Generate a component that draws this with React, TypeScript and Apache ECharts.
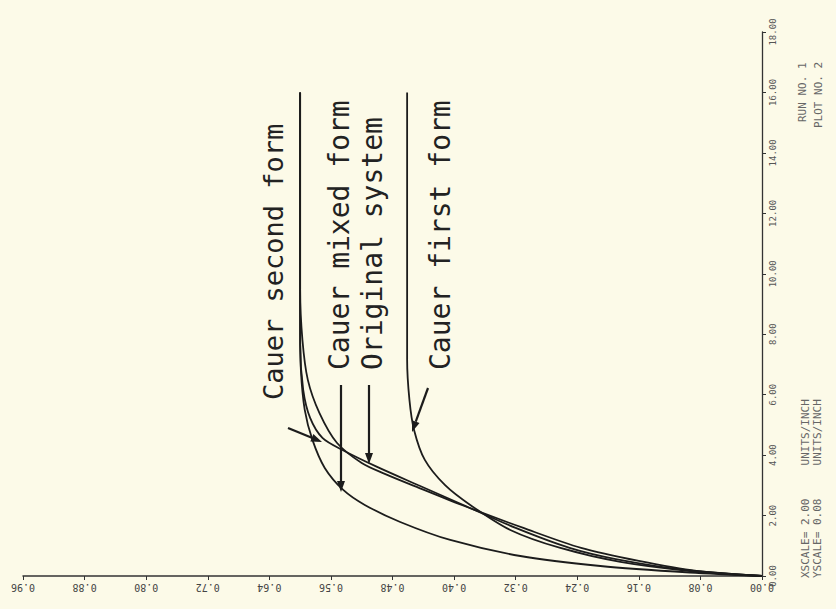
import React, { useEffect, useRef } from "react";
import * as echarts from "echarts";

// time (x-scale, 2.00 units/inch) and response (y-scale, 0.08 units/inch)
const mixedT = [0, 0.116, 0.331, 0.662, 1.192, 1.788, 2.351, 2.848, 3.576, 4.503, 5.497, 6.821, 8.477, 16.0];
const mixedR = [0, 0.094, 0.21, 0.314, 0.405, 0.47, 0.516, 0.544, 0.568, 0.584, 0.594, 0.599, 0.6, 0.6];

const secondT = [0, 0.2, 0.56, 0.93, 1.59, 2.35, 3.01, 3.61, 4.17, 4.57, 5.23, 6.16, 7.65, 16.0];
const secondR = [0, 0.1, 0.19, 0.25, 0.32, 0.388, 0.447, 0.5, 0.545, 0.571, 0.587, 0.596, 0.6, 0.6];

const originalT = [0, 0.166, 0.497, 0.93, 1.59, 2.35, 2.91, 3.38, 3.74, 4.4, 5.4, 6.49, 7.81, 9.47, 16.0];
const originalR = [0, 0.085, 0.16, 0.235, 0.31, 0.39, 0.445, 0.49, 0.52, 0.552, 0.575, 0.59, 0.597, 0.6, 0.6];

const firstT = [0, 0.166, 0.464, 0.927, 1.523, 2.351, 3.013, 3.841, 4.834, 5.828, 7.152, 16.0];
const firstR = [0, 0.094, 0.184, 0.262, 0.327, 0.379, 0.412, 0.438, 0.452, 0.458, 0.461, 0.461];

const labels = ["Cauer second form", "Cauer mixed form", "Original system", "Cauer first form"];

const INK = "#1c1c1c";
const MONO = "'DejaVu Sans Mono', 'Liberation Mono', monospace";

function pairs(r: number[], t: number[]) {
  return r.map((v, i) => [v, t[i]]);
}

function arrow(x1: number, y1: number, x2: number, y2: number) {
  const a = Math.atan2(y2 - y1, x2 - x1);
  const L = 11, W = 4;
  const bx = x2 - L * Math.cos(a), by = y2 - L * Math.sin(a);
  const px = -Math.sin(a) * W, py = Math.cos(a) * W;
  return [
    { type: "line", shape: { x1, y1, x2: bx, y2: by }, style: { stroke: INK, lineWidth: 2.2 } },
    {
      type: "polygon",
      shape: { points: [[x2, y2], [bx + px, by + py], [bx - px, by - py]] },
      style: { fill: INK },
    },
  ];
}

function vtext(text: string, x: number, y: number, size: number, color: string) {
  return {
    type: "text",
    x,
    y,
    rotation: Math.PI / 2,
    style: {
      text,
      fontSize: size,
      fontFamily: MONO,
      fill: color,
      align: "left",
      verticalAlign: "middle",
      textAlign: "left",
      textVerticalAlign: "middle",
    },
  };
}

export default function App() {
  const ref = useRef<HTMLDivElement>(null);
  useEffect(() => {
    if (!ref.current) return;
    const chart = echarts.init(ref.current, null, { renderer: "svg" });
    const lineSeries = (name: string, data: number[][]) => ({
      type: "line",
      name,
      data,
      showSymbol: false,
      smooth: 0.3,
      lineStyle: { color: INK, width: 1.8 },
    });
    chart.setOption({
      animation: false,
      backgroundColor: "#fcfae8",
      grid: { left: 23, right: 74, top: 32, bottom: 33 },
      xAxis: {
        type: "value",
        inverse: true,
        min: 0,
        max: 0.96,
        interval: 0.08,
        position: "bottom",
        axisLine: { show: true, lineStyle: { color: "#333", width: 1.5 } },
        axisTick: { show: true, length: 4, lineStyle: { color: "#333" } },
        splitLine: { show: false },
        axisLabel: {
          rotate: 180,
          fontSize: 10,
          color: "#444",
          fontFamily: MONO,
          margin: 6,
          formatter: (v: number) => v.toFixed(2),
        },
      },
      yAxis: {
        type: "value",
        position: "right",
        min: 0,
        max: 18,
        interval: 2,
        axisLine: { show: true, lineStyle: { color: "#333", width: 1.3 } },
        axisTick: { show: true, length: 4, lineStyle: { color: "#333" } },
        splitLine: { show: false },
        axisLabel: {
          rotate: 90,
          fontSize: 9,
          color: "#555",
          fontFamily: MONO,
          margin: 6,
          formatter: (v: number) => v.toFixed(2),
        },
      },
      series: [
        lineSeries(labels[0], pairs(secondR, secondT)),
        lineSeries(labels[1], pairs(mixedR, mixedT)),
        lineSeries(labels[2], pairs(originalR, originalT)),
        lineSeries(labels[3], pairs(firstR, firstT)),
      ],
      graphic: [
        vtext(labels[0], 273, 400, 27, "#222"),
        vtext(labels[1], 339, 370, 28, "#222"),
        vtext(labels[2], 372, 370, 28, "#222"),
        vtext(labels[3], 440, 370, 28, "#222"),
        ...arrow(288, 428, 322, 442),
        ...arrow(341, 385, 341, 492),
        ...arrow(369, 385, 369, 464),
        ...arrow(428, 388, 412, 432),
        vtext("XSCALE= 2.00     UNITS/INCH", 805, 578, 11, "#666"),
        vtext("YSCALE= 0.08     UNITS/INCH", 817, 578, 11, "#666"),
        vtext("RUN NO. 1", 802, 122, 11, "#666"),
        vtext("PLOT NO. 2", 818, 128, 11, "#666"),
      ],
    });
    return () => chart.dispose();
  }, []);
  return (
    <div
      ref={ref}
      style={{ position: "fixed", left: 0, top: 0, width: 836, height: 609, background: "#fcfae8" }}
    />
  );
}
